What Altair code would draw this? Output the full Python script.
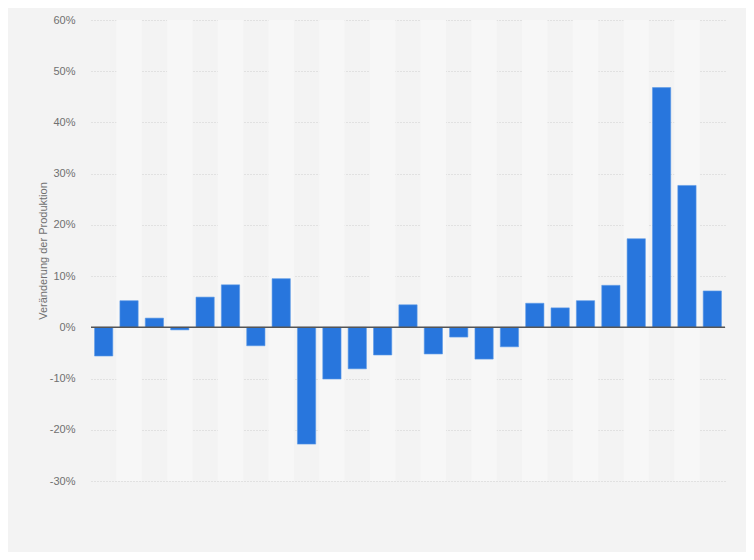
import altair as alt
import pandas as pd

categories = [str(i) for i in range(1, 26)]
values = [-5.6, 5.2, 1.8, -0.5, 5.9, 8.3, -3.6, 9.5, -22.8, -10.1, -8.1, -5.4, 4.4,
          -5.2, -1.9, -6.2, -3.8, 4.7, 3.8, 5.2, 8.2, 17.3, 46.8, 27.7, 7.1]

df = pd.DataFrame({"cat": categories, "val": [v / 100 for v in values]})
bands = pd.DataFrame({"cat": categories[1::2]})

W, H = 634, 461
xscale = alt.Scale(domain=categories, paddingInner=0, paddingOuter=0)
yscale = alt.Scale(domain=[-0.3, 0.6], nice=False)

band_layer = alt.Chart(bands).mark_rect(color="#f7f7f7").encode(
    x=alt.X("cat:N", scale=xscale, axis=None),
    y=alt.value(0),
    y2=alt.value(H),
)

bar_layer = alt.Chart(df).mark_bar(
    width=alt.RelativeBandSize(0.72), color="#2876dd",
    stroke="#5d9be8", strokeWidth=0.6
).encode(
    x=alt.X("cat:N", scale=xscale, axis=None),
    y=alt.Y("val:Q", scale=yscale,
            axis=alt.Axis(format=".0%", values=[-0.3, -0.2, -0.1, 0, 0.1, 0.2, 0.3, 0.4, 0.5, 0.6],
                          labelExpr="replace(datum.label, '\u2212', '-')",
                          title="Veränderung der Produktion")),
)

zero = alt.Chart(pd.DataFrame({"z": [0]})).mark_rule(color="#555555", strokeWidth=1.5).encode(
    y=alt.Y("z:Q", scale=yscale)
)

chart = alt.layer(band_layer, bar_layer, zero).properties(
    width=W, height=H,
    background="#f3f3f3",
    autosize=alt.AutoSizeParams(type="none"),
    padding={"left": 83, "top": 12, "right": 21, "bottom": 71},
).configure_view(stroke=None).configure_axis(
    domain=False, ticks=False,
    grid=True, gridColor="#cfcfcf", gridDash=[1, 2], gridWidth=1,
    labelFont="Liberation Sans", labelFontSize=11, labelColor="#707070", labelPadding=16,
    titleFont="Liberation Sans", titleFontSize=11, titleColor="#707070", titleFontWeight="normal",
    titlePadding=1,
)

chart.save("out.html", embed_options={"renderer": "svg", "actions": False})
